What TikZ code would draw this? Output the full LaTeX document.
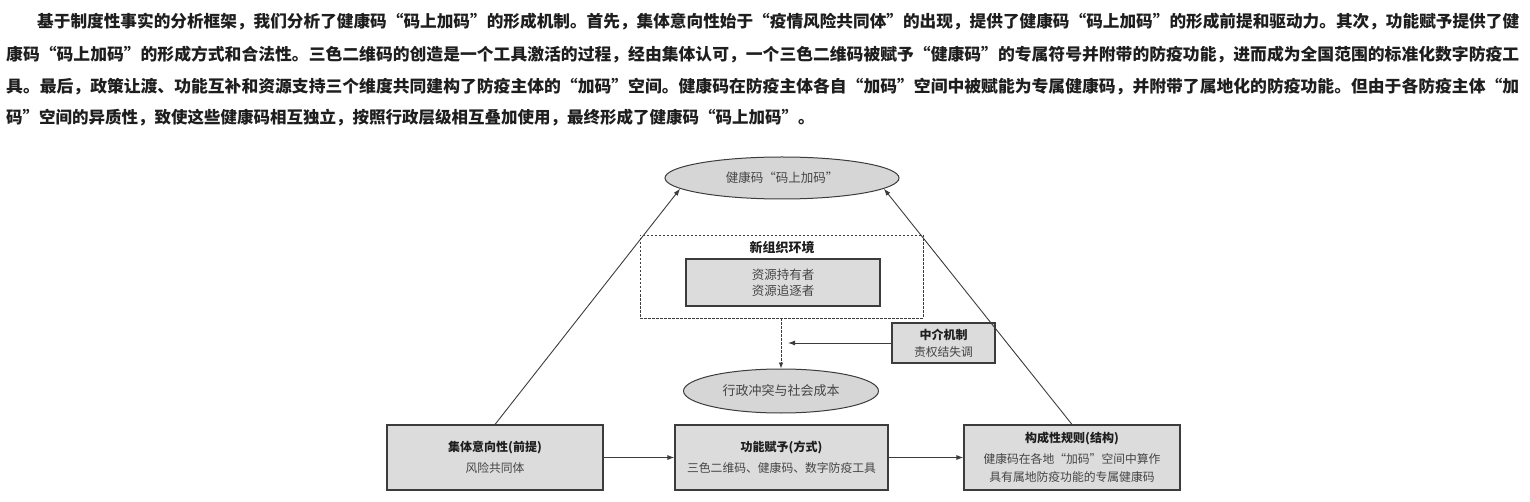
\documentclass[tikz,border=0pt]{standalone}
\usepackage{fontspec}
\usepackage{graphicx}
\setmainfont{Noto Sans CJK SC}
\usetikzlibrary{arrows.meta,shapes.geometric,calc}
\definecolor{boxfill}{HTML}{DCDCDC}
\definecolor{ellfill}{HTML}{D6D6D6}
\definecolor{edge}{HTML}{3C3C3C}
\definecolor{ink}{HTML}{1E1E1E}
\definecolor{subink}{HTML}{454545}
\newcommand\btitle{\fontsize{12}{14}\selectfont\bfseries\color{ink}}
\newcommand\bsub{\fontsize{11.8}{14}\selectfont\color{subink}}
\begin{document}
\begin{tikzpicture}[x=1pt,y=-1pt,
  para/.style={anchor=west, inner sep=0pt, font=\fontsize{16.5}{20}\selectfont\bfseries, text=ink},
  gbox/.style={draw=edge, line width=1.1pt, fill=boxfill, inner sep=0pt, align=center, text=ink, font=\fontsize{12}{14}\selectfont},
  gell/.style={ellipse, draw=edge, line width=1pt, fill=ellfill, inner sep=0pt, font=\fontsize{12.5}{15}\selectfont, text=subink},
  arr/.style={-{Latex[length=7pt,width=5pt]}, line width=0.9pt, draw=edge},
  dasharr/.style={-{Latex[length=6pt,width=4.5pt]}, line width=0.8pt, draw=edge, dash pattern=on 2.5pt off 1.5pt},
  envbox/.style={draw=edge, line width=0.8pt, dash pattern=on 2.5pt off 1.5pt, inner sep=0pt}
]
\useasboundingbox (0,0) rectangle (1530,502);

% paragraph
\node[para] (p1) at (37,22) {\resizebox{1482pt}{\height}{基于制度性事实的分析框架，我们分析了健康码“码上加码”的形成机制。首先，集体意向性始于“疫情风险共同体”的出现，提供了健康码“码上加码”的形成前提和驱动力。其次，功能赋予提供了健}};
\node[para] (p2) at (6,55) {\resizebox{1513pt}{\height}{康码“码上加码”的形成方式和合法性。三色二维码的创造是一个工具激活的过程，经由集体认可，一个三色二维码被赋予“健康码”的专属符号并附带的防疫功能，进而成为全国范围的标准化数字防疫工}};
\node[para] (p3) at (6,87) {\resizebox{1513pt}{\height}{具。最后，政策让渡、功能互补和资源支持三个维度共同建构了防疫主体的“加码”空间。健康码在防疫主体各自“加码”空间中被赋能为专属健康码，并附带了属地化的防疫功能。但由于各防疫主体“加}};
\node[para] (p4) at (6,118) {码”空间的异质性，致使这些健康码相互独立，按照行政层级相互叠加使用，最终形成了健康码“码上加码”。};

% diagram
\node[gell, minimum width=234pt, minimum height=42pt] (top) at (782,178) {健康码“码上加码”};
\node[envbox, minimum width=283pt, minimum height=83pt] (env) at (781.5,276.5) {};
\node[inner sep=0pt, font=\fontsize{13}{15}\selectfont\bfseries, text=ink] (envt) at (782,248) {新组织环境};
\node[gbox, minimum width=194pt, minimum height=47pt, font=\fontsize{12.5}{16}\selectfont, text=subink] (res) at (783,282.5) {资源持有者\\资源追逐者};
\node[gell, minimum width=195pt, minimum height=44pt, font=\fontsize{13}{15}\selectfont] (cost) at (781,391) {行政冲突与社会成本};
\node[gbox, minimum width=103pt, minimum height=40pt] (mid) at (943.5,343) {{\btitle 中介机制}\\[3pt]{\bsub 责权结失调}};
\node[gbox, minimum width=216pt, minimum height=65pt] (b1) at (495,457.5) {{\btitle 集体意向性(前提)}\\[7pt]{\bsub 风险共同体}};
\node[gbox, minimum width=213pt, minimum height=65pt] (b2) at (781.5,457.5) {{\btitle 功能赋予(方式)}\\[7pt]{\bsub 三色二维码、健康码、数字防疫工具}};
\node[gbox, minimum width=216pt, minimum height=65pt] (b3) at (1072,457.5) {{\btitle 构成性规则(结构)}\\[7pt]{\bsub 健康码在各地“加码”空间中算作}\\[4pt]{\bsub 具有属地防疫功能的专属健康码}};

% connectors
\draw[arr] (b1) -- (b2);
\draw[arr] (b2) -- (b3);
\draw[arr] (b1.north) -- (top.186);
\draw[arr] (b3.north) -- (top.354);
\draw[dasharr] (env.south -| cost.north) -- (cost.north);
\draw[arr] (mid.west) -- ($(mid.west -| cost.north)+(7,0)$);
\end{tikzpicture}
\end{document}
